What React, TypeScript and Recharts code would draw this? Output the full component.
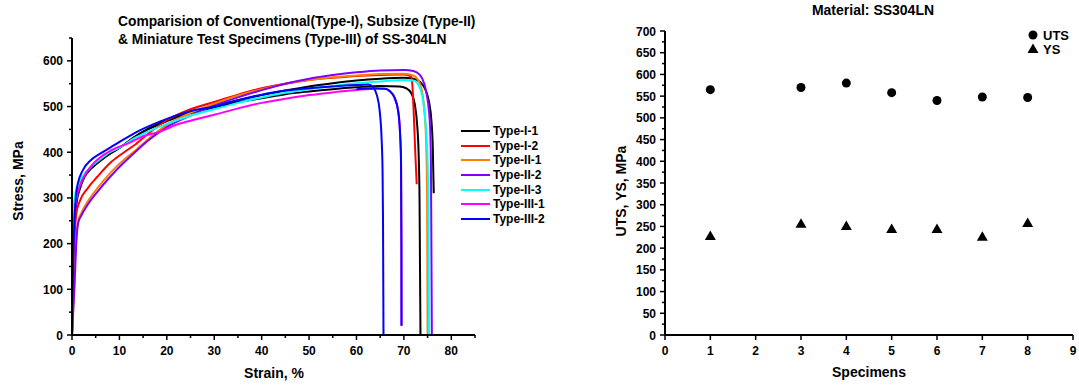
import { LineChart, Line, XAxis, YAxis, ScatterChart, Scatter } from "recharts";

const FONT = '"Liberation Sans", Arial, sans-serif';

// ---- left chart: stress-strain curves (strain %, stress MPa) ----
const typeI1Strain = [0, 0.2, 0.4, 0.7, 1, 1.6, 2.6, 4, 5, 7.5, 10.4, 13, 16, 20, 25, 30, 35, 40, 45, 50, 55, 60, 65, 69, 70.5, 71.5, 72.3, 72.8, 73.1, 73.3, 73.4, 73.5];
const typeI1Stress = [0, 120, 220, 270, 300, 322, 350, 366, 374, 394, 412, 432, 450, 468, 486, 498, 510, 518, 527, 533, 538, 542, 545, 544, 540, 530, 505, 460, 400, 300, 150, 0];

// second black trace in the original plot (not in its legend)
const typeI1bStrain = [0, 0.2, 0.4, 0.7, 1, 1.6, 2.6, 4, 5, 7.5, 10.4, 13, 16, 20, 25, 30, 35, 40, 45, 50, 55, 60, 65, 70, 72, 73.5, 74.5, 75.3, 75.8, 76.1, 76.3];
const typeI1bStress = [0, 110, 210, 262, 292, 318, 345, 364, 373, 393, 412, 432, 451, 470, 488, 502, 514, 525, 535, 544, 551, 557, 561, 563, 561, 553, 538, 510, 470, 410, 310];

const typeI2Strain = [0, 0.3, 0.6, 0.9, 1.6, 3.3, 5.4, 8.2, 11, 13.5, 16, 20, 25, 30, 35, 40, 45, 50, 55, 60, 65, 70, 71.5, 71.8, 72.1, 72.4, 72.7];
const typeI2Stress = [0, 120, 220, 265, 292, 321, 347, 378, 400, 418, 440, 470, 494, 510, 526, 540, 550, 558, 563, 567, 569, 570, 566, 545, 480, 400, 330];

const typeII1Strain = [0, 0.4, 0.8, 1.2, 2, 3.3, 5.4, 8.2, 11, 13.5, 16, 20, 25, 30, 35, 40, 45, 50, 55, 60, 65, 70, 72, 73, 73.8, 74.3, 74.7, 74.9, 75];
const typeII1Stress = [0, 100, 200, 245, 268, 292, 322, 356, 384, 405, 428, 460, 486, 506, 524, 538, 550, 558, 564, 568, 571, 572, 568, 558, 535, 495, 420, 300, 0];

const typeII2Strain = [0, 0.5, 0.9, 1.3, 2, 3.3, 5.4, 8.2, 11, 13.5, 16, 20, 25, 30, 35, 40, 45, 50, 55, 60, 65, 70, 72, 73.3, 74.3, 75, 75.5, 75.7, 75.8, 75.9];
const typeII2Stress = [0, 100, 200, 245, 262, 285, 314, 348, 378, 402, 425, 455, 480, 502, 520, 536, 550, 561, 569, 575, 579, 580, 578, 570, 550, 515, 460, 380, 200, 0];

const typeII3Strain = [0, 0.15, 0.35, 0.7, 1.5, 2.6, 4, 6, 8, 10.4, 13, 16, 20, 25, 30, 35, 40, 45, 50, 55, 60, 65, 70, 72, 73.2, 74, 74.6, 75, 75.2, 75.3];
const typeII3Stress = [0, 150, 270, 310, 335, 352, 368, 385, 400, 412, 430, 445, 462, 480, 494, 508, 520, 530, 538, 545, 551, 555, 558, 557, 545, 515, 460, 380, 250, 0];

const typeIII1Strain = [0, 0.2, 0.5, 1, 2, 3, 4.5, 6.5, 9, 12, 15, 18.5, 22, 25, 30, 35, 40, 45, 50, 55, 60, 64, 66, 67, 68, 68.8, 69.2, 69.4, 69.48, 69.5];
const typeIII1Stress = [0, 130, 250, 300, 335, 355, 375, 393, 408, 420, 435, 445, 460, 469, 482, 496, 508, 517, 525, 531, 536, 539, 539, 534, 520, 490, 440, 380, 200, 20];

const typeIII2Strain = [0, 0.2, 0.5, 0.8, 1.2, 2.3, 4, 6.1, 9, 13.2, 18.5, 25, 30, 35, 40, 45, 50, 55, 60, 62.5, 63.5, 64.3, 64.9, 65.3, 65.5, 65.6, 65.7];
const typeIII2Stress = [0, 130, 245, 300, 330, 361, 383, 398, 416, 442, 467, 490, 500, 514, 526, 535, 540, 544, 547, 548, 542, 525, 490, 430, 360, 250, 0];

// second blue trace in the original plot (not in its legend)
const typeIII2bStrain = [60, 64, 66, 67, 68, 68.8, 69.2, 69.4, 69.48, 69.5];
const typeIII2bStress = [538, 540, 539, 534, 520, 490, 440, 380, 200, 20];

const strainTicks = [0, 5, 10, 15, 20, 25, 30, 35, 40, 45, 50, 55, 60, 65, 70, 75, 80, 85];
const stressTicks = [0, 50, 100, 150, 200, 250, 300, 350, 400, 450, 500, 550, 600, 650];

// ---- right chart: UTS / YS per specimen ----
const specimens = [1, 3, 4, 5, 6, 7, 8];
const utsValues = [565, 570, 580, 558, 540, 548, 547];
const ysValues = [228, 256, 251, 244, 244, 226, 258];
const specimenTicks = [0, 1, 2, 3, 4, 5, 6, 7, 8, 9];
const strengthTicks = Array.from({ length: 29 }, (_, i) => i * 25);

const zip = (xs: number[], ys: number[]) => xs.map((x, i) => ({ x, y: ys[i] }));

const series = [
  { name: "Type-I-1", color: "#000000", data: zip(typeI1Strain, typeI1Stress), legend: true },
  { name: "Type-I-1b", color: "#000000", data: zip(typeI1bStrain, typeI1bStress), legend: false },
  { name: "Type-I-2", color: "#ff0000", data: zip(typeI2Strain, typeI2Stress), legend: true },
  { name: "Type-II-1", color: "#ff8000", data: zip(typeII1Strain, typeII1Stress), legend: true },
  { name: "Type-II-2", color: "#8000ff", data: zip(typeII2Strain, typeII2Stress), legend: true },
  { name: "Type-II-3", color: "#00ffff", data: zip(typeII3Strain, typeII3Stress), legend: true },
  { name: "Type-III-1", color: "#ff00ff", data: zip(typeIII1Strain, typeIII1Stress), legend: true },
  { name: "Type-III-2b", color: "#0000ff", data: zip(typeIII2bStrain, typeIII2bStress), legend: false },
  { name: "Type-III-2", color: "#0000ff", data: zip(typeIII2Strain, typeIII2Stress), legend: true },
];

const utsData = zip(specimens, utsValues);
const ysData = zip(specimens, ysValues);

const tickText = { fontFamily: FONT, fontSize: 12, fontWeight: 700, fill: "#000" };

function makeTick(axis: "x" | "y", major: number, labelEvery: number) {
  return (props: any) => {
    const { x, y, payload } = props;
    const v = payload.value;
    const isMajor = v % major === 0;
    const len = isMajor ? 5 : 3;
    const showLabel = v % labelEvery === 0;
    if (axis === "x") {
      return (
        <g>
          <line x1={x} y1={y} x2={x} y2={y + len} stroke="#000" strokeWidth={1.5} />
          {showLabel && (
            <text x={x} y={y + 20} textAnchor="middle" {...tickText}>
              {v}
            </text>
          )}
        </g>
      );
    }
    return (
      <g>
        <line x1={x} y1={y} x2={x - len} y2={y} stroke="#000" strokeWidth={1.5} />
        {showLabel && (
          <text x={x - 9} y={y + 4.5} textAnchor="end" {...tickText}>
            {v}
          </text>
        )}
      </g>
    );
  };
}

const label = (extra: React.CSSProperties): React.CSSProperties => ({
  position: "absolute",
  fontFamily: FONT,
  fontWeight: 700,
  color: "#000",
  whiteSpace: "nowrap",
  ...extra,
});

function Circle(props: any) {
  return <circle cx={props.cx} cy={props.cy} r={4.5} fill="#000" />;
}

function Triangle(props: any) {
  const { cx, cy } = props;
  return <polygon points={`${cx},${cy - 5.5} ${cx - 5.5},${cy + 4} ${cx + 5.5},${cy + 4}`} fill="#000" />;
}

export default function App() {
  const axisLine = { stroke: "#000", strokeWidth: 2 };
  return (
    <div style={{ position: "absolute", left: 0, top: 0, width: 1079, height: 387, background: "#fff", overflow: "hidden" }}>
      {/* left chart */}
      <div style={{ position: "absolute", left: 0, top: 0 }}>
        <LineChart width={600} height={387} margin={{ top: 38, right: 125, bottom: 22, left: 32 }}>
          <XAxis
            type="number"
            dataKey="x"
            domain={[0, 85]}
            ticks={strainTicks}
            interval={0}
            height={30}
            tickSize={0}
            tickMargin={0}
            axisLine={axisLine}
            tickLine={false}
            tick={makeTick("x", 10, 10)}
          />
          <YAxis
            type="number"
            dataKey="y"
            domain={[0, 650]}
            ticks={stressTicks}
            interval={0}
            width={40}
            tickSize={0}
            tickMargin={0}
            axisLine={axisLine}
            tickLine={false}
            tick={makeTick("y", 100, 100)}
          />
          {series.map((s) => (
            <Line
              key={s.name}
              name={s.name}
              data={s.data}
              dataKey="y"
              type="monotone"
              stroke={s.color}
              strokeWidth={2}
              dot={false}
              activeDot={false}
              isAnimationActive={false}
            />
          ))}
        </LineChart>
      </div>

      <div style={label({ left: 118, top: 13, fontSize: 13.8, lineHeight: "17.5px" })}>
        Comparision of Conventional(Type-I), Subsize (Type-II)
        <br />& Miniature Test Specimens (Type-III) of SS-304LN
      </div>
      <div style={label({ left: 274, top: 365, fontSize: 14, transform: "translateX(-50%)" })}>Strain, %</div>
      <div style={label({ left: 18, top: 181, fontSize: 14, transform: "translate(-50%, -50%) rotate(-90deg)" })}>
        Stress, MPa
      </div>

      {/* left legend */}
      <div style={{ position: "absolute", left: 461, top: 124 }}>
        {series
          .filter((s) => s.legend)
          .map((s) => (
            <div key={s.name} style={{ display: "flex", alignItems: "center", height: 14.6 }}>
              <div style={{ width: 29, height: 2, background: s.color, marginRight: 3 }} />
              <span style={{ fontFamily: FONT, fontWeight: 700, fontSize: 12 }}>{s.name}</span>
            </div>
          ))}
      </div>

      {/* right chart */}
      <div style={{ position: "absolute", left: 600, top: 0 }}>
        <ScatterChart width={479} height={387} margin={{ top: 31, right: 6, bottom: 22, left: 25 }}>
          <XAxis
            type="number"
            dataKey="x"
            domain={[0, 9]}
            ticks={specimenTicks}
            interval={0}
            height={30}
            tickSize={0}
            tickMargin={0}
            axisLine={axisLine}
            tickLine={false}
            tick={makeTick("x", 1, 1)}
          />
          <YAxis
            type="number"
            dataKey="y"
            domain={[0, 700]}
            ticks={strengthTicks}
            interval={0}
            width={40}
            tickSize={0}
            tickMargin={0}
            axisLine={axisLine}
            tickLine={false}
            tick={makeTick("y", 50, 50)}
          />
          <Scatter name="UTS" data={utsData} shape={Circle} isAnimationActive={false} />
          <Scatter name="YS" data={ysData} shape={Triangle} isAnimationActive={false} />
        </ScatterChart>
      </div>

      <div style={label({ left: 873, top: 2, fontSize: 14, transform: "translateX(-50%)" })}>Material: SS304LN</div>
      <div style={label({ left: 869, top: 364, fontSize: 14, transform: "translateX(-50%)" })}>Specimens</div>
      <div style={label({ left: 621, top: 191, fontSize: 14, transform: "translate(-50%, -50%) rotate(-90deg)" })}>
        UTS, YS, MPa
      </div>

      {/* right legend */}
      <svg style={{ position: "absolute", left: 1025, top: 27 }} width={54} height={30}>
        <circle cx={8} cy={8} r={4.5} fill="#000" />
        <text x={18} y={12.5} {...tickText} fontSize={13}>
          UTS
        </text>
        <polygon points="8,16.5 2.5,26 13.5,26" fill="#000" />
        <text x={18} y={27} {...tickText} fontSize={13}>
          YS
        </text>
      </svg>
    </div>
  );
}
